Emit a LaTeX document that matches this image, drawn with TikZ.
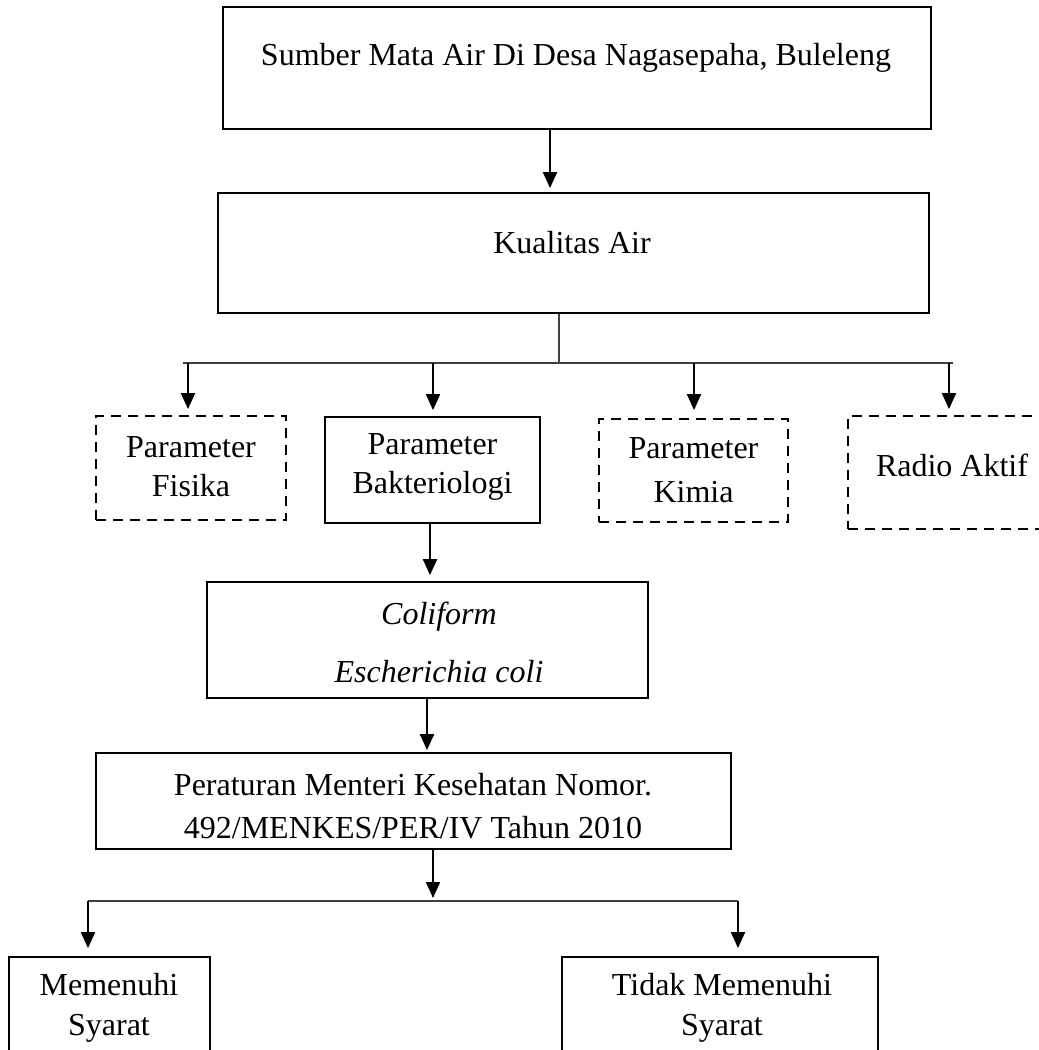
\documentclass[tikz,border=0pt]{standalone}
\usepackage{fontspec}
\setmainfont{Liberation Serif}
\usetikzlibrary{arrows.meta}
\begin{document}
\begin{tikzpicture}[x=0.5pt,y=-0.5pt,
  box/.style={draw, line width=0.9pt, inner sep=0pt, rectangle},
  dbox/.style={box, dash pattern=on 5pt off 3.5pt},
  txt/.style={font=\fontsize{16}{19.5}\selectfont, align=center, inner sep=0pt},
  arr/.style={line width=1pt, -{Triangle[width=7pt,length=8pt]}},
  busline/.style={line width=0.6pt, black!75}]
\useasboundingbox (0,0) rectangle (1039,1050);
% boxes
\node[box, minimum width=354pt, minimum height=61pt] (top) at (577,68) {};
\node[box, minimum width=355.5pt, minimum height=60pt] (kual) at (573.5,253) {};
\node[dbox, minimum width=95pt, minimum height=52pt] (fis) at (191,468) {};
\node[box, minimum width=107.5pt, minimum height=53pt] (bak) at (432.5,470) {};
\node[dbox, minimum width=94.5pt, minimum height=51.5pt] (kim) at (693.5,470.5) {};
\node[dbox, minimum width=107pt, minimum height=56.5pt] (rad) at (955,472.5) {};
\node[box, minimum width=220.5pt, minimum height=58pt] (coli) at (427.5,640) {};
\node[box, minimum width=317.5pt, minimum height=48pt] (per) at (413.5,801) {};
\node[box, minimum width=100.5pt, minimum height=61.5pt] (mem) at (109.5,1018.5) {};
\node[box, minimum width=158pt, minimum height=61.5pt] (tid) at (720,1018.5) {};
% texts
\node[txt] (topT) at (576,58) {Sumber Mata Air Di Desa Nagasepaha, Buleleng};
\node[txt] (kualT) at (572,243) {Kualitas Air};
\node[txt] (fisT) at (191,467) {Parameter\\Fisika};
\node[txt] (bakT) at (432.5,467) {Parameter\\Bakteriologi};
\node[txt, font=\fontsize{16}{22}\selectfont] (kimT) at (693.5,470) {Parameter\\Kimia};
\node[txt] (radT) at (952,465) {Radio Aktif};
\node[txt, font=\fontsize{16}{29}\selectfont\itshape] (coliT) at (439,642) {Coliform\\Escherichia coli};
\node[txt, font=\fontsize{16}{21.5}\selectfont] (perT) at (413,806) {Peraturan Menteri Kesehatan Nomor.\\492/MENKES/PER/IV Tahun 2010};
\node[txt, font=\fontsize{16}{20}\selectfont] (memT) at (109,1008) {Memenuhi\\Syarat};
\node[txt, font=\fontsize{16}{20}\selectfont] (tidT) at (722,1008) {Tidak Memenuhi\\Syarat};
% bus coordinates
\coordinate (a0) at (550,129);
\coordinate (bus) at (559,363);
\coordinate (busL) at (183,363);
\coordinate (busR) at (953,363);
\coordinate (aF) at (188,363);
\coordinate (aB) at (433,363);
\coordinate (aK) at (694,363);
\coordinate (aR) at (949,363);
\coordinate (aC) at (430,523);
\coordinate (aP) at (427,698);
\coordinate (bus2) at (433,901);
\coordinate (bus2L) at (88,901);
\coordinate (bus2R) at (738,901);
% connectors
\draw[arr, shorten >=2pt] (a0 |- top.south) -- (a0 |- kual.north);
\draw[busline] (bus |- kual.south) -- (bus);
\draw[busline] (busL) -- (busR);
\draw[arr, shorten >=3pt] (aF) -- (aF |- fis.north);
\draw[arr, shorten >=3pt] (aB) -- (aB |- bak.north);
\draw[arr, shorten >=4pt] (aK) -- (aK |- kim.north);
\draw[arr, shorten >=3pt] (aR) -- (aR |- rad.north);
\draw[arr, shorten >=3pt] (aC |- bak.south) -- (aC |- coli.north);
\draw[arr, shorten >=1pt] (aP |- coli.south) -- (aP |- per.north);
\draw[arr, shorten >=1.5pt] (bus2 |- per.south) -- (bus2);
\draw[busline] (bus2L) -- (bus2R);
\draw[arr, shorten >=4pt] (bus2L) -- (bus2L |- mem.north);
\draw[arr, shorten >=4pt] (bus2R) -- (bus2R |- tid.north);
\end{tikzpicture}
\end{document}
